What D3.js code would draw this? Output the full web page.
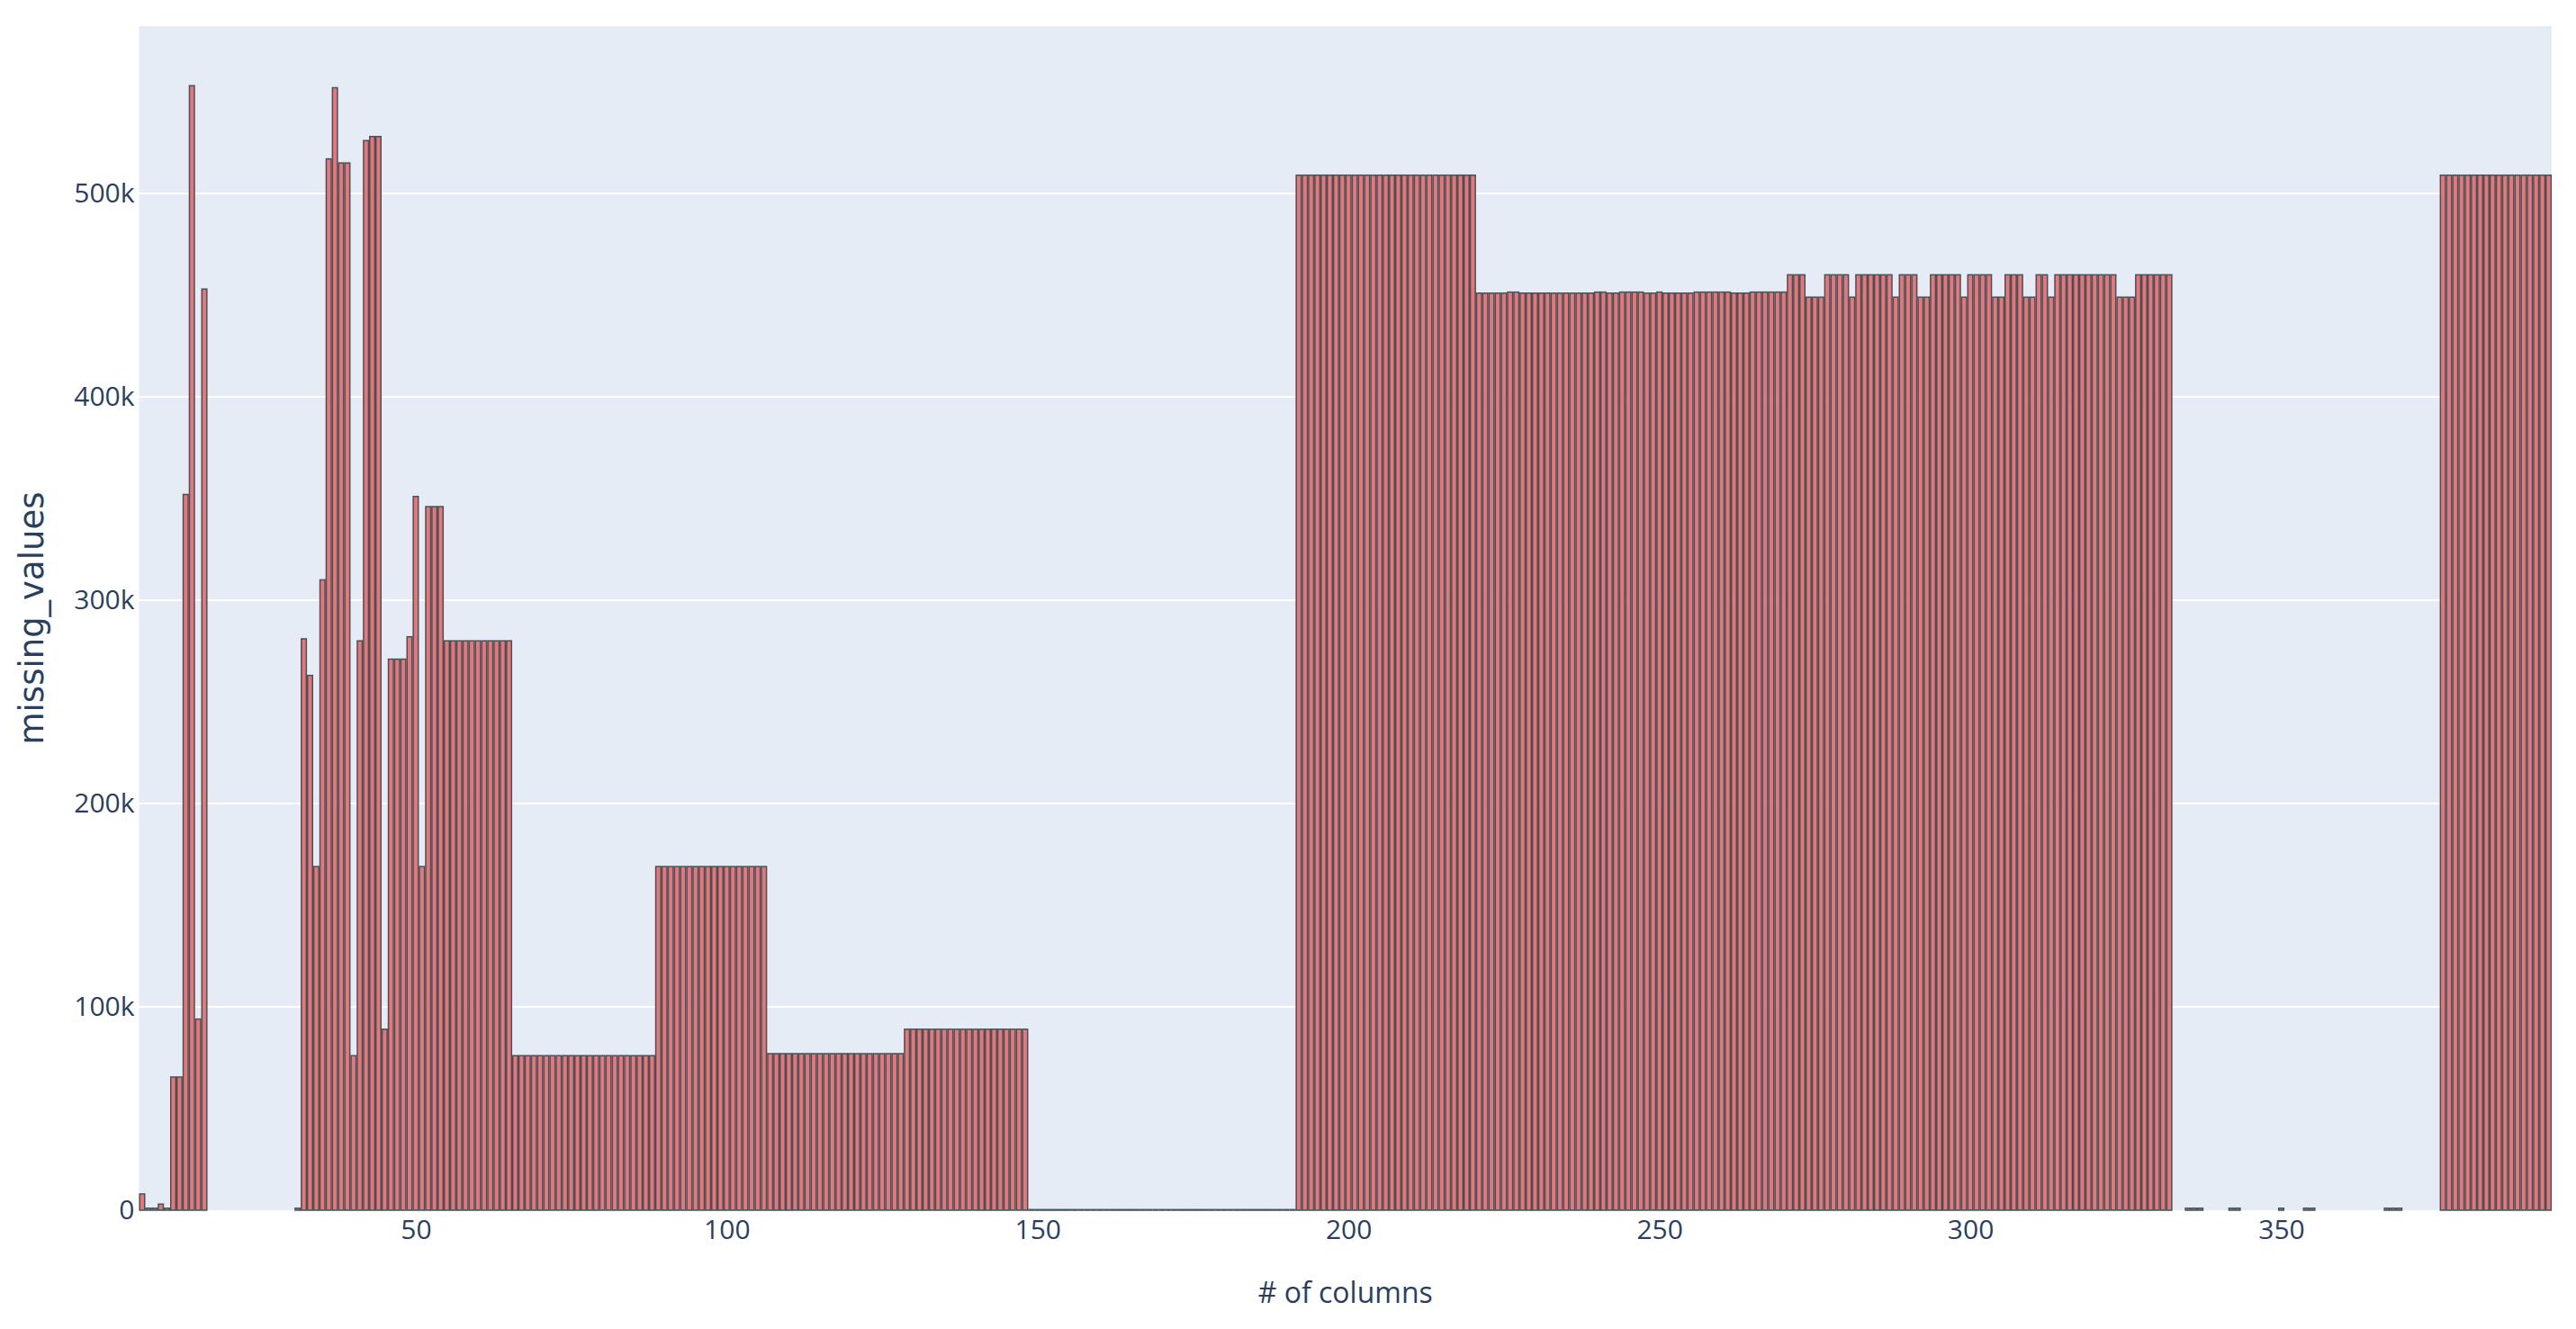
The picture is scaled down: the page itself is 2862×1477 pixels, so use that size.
<!DOCTYPE html>
<html>
<head>
  <meta charset="utf-8">
  <title>missing_values</title>
  <script src="https://d3js.org/d3.v7.min.js"></script>
  <style>
    body { margin: 0; background: #fff; }
  </style>
</head>
<body>
<div id="chart"></div>
<script type="text/javascript">
  // column numbers run from firstColumn upwards, one value per column (thousands)
  const firstColumn = 6;
  const missingK = [
    8, 1, 1, 3, 1,                                   // 6-10
    65.5, 65.5, 352, 553, 94, 453,                   // 11-16
    0, 0, 0, 0, 0, 0, 0, 0, 0, 0, 0, 0, 0, 0,        // 17-30
    1, 281, 263, 169, 310, 517, 552, 515, 515, 76,   // 31-40
    280, 526, 528, 528, 89, 271, 271, 271, 282, 351, // 41-50
    169, 346, 346, 346,                              // 51-54
    280, 280, 280, 280, 280, 280, 280, 280, 280, 280, 280, // 55-65
    76, 76, 76, 76, 76, 76, 76, 76, 76, 76, 76, 76,  // 66-77
    76, 76, 76, 76, 76, 76, 76, 76, 76, 76, 76,      // 78-88
    169, 169, 169, 169, 169, 169, 169, 169, 169,     // 89-97
    169, 169, 169, 169, 169, 169, 169, 169, 169,     // 98-106
    77, 77, 77, 77, 77, 77, 77, 77, 77, 77, 77,      // 107-117
    77, 77, 77, 77, 77, 77, 77, 77, 77, 77, 77,      // 118-128
    89, 89, 89, 89, 89, 89, 89, 89, 89, 89,          // 129-138
    89, 89, 89, 89, 89, 89, 89, 89, 89, 89,          // 139-148
    0.3, 0.3, 0.3, 0.3, 0.3, 0.3, 0.3, 0.3, 0.3, 0.3, // 149-158
    0.3, 0.3, 0.3, 0.3, 0.3, 0.3, 0.3, 0.3, 0.3, 0.3, // 159-168
    0.3, 0.3, 0.3, 0.3, 0.3, 0.3, 0.3, 0.3, 0.3, 0.3, // 169-178
    0.3, 0.3, 0.3, 0.3, 0.3, 0.3, 0.3, 0.3, 0.3, 0.3, // 179-188
    0.3, 0.3, 0.3,                                   // 189-191
    509, 509, 509, 509, 509, 509, 509, 509, 509, 509, // 192-201
    509, 509, 509, 509, 509, 509, 509, 509, 509, 509, // 202-211
    509, 509, 509, 509, 509, 509, 509, 509, 509,     // 212-220
    451, 451, 451, 451, 451, 451.5, 451.5, 451, 451, 451, // 221-230
    451, 451, 451, 451, 451, 451, 451, 451, 451, 451.5,   // 231-240
    451.5, 451, 451, 451.5, 451.5, 451.5, 451.5, 451, 451, 451.5, // 241-250
    451, 451, 451, 451, 451, 451.5, 451.5, 451.5, 451.5, 451.5,   // 251-260
    451.5, 451, 451, 451, 451.5, 451.5, 451.5, 451.5, 451.5, 451.5, // 261-270
    460, 460, 460, 449, 449, 449, 460, 460, 460, 460, // 271-280
    449, 460, 460, 460, 460, 460, 460, 449, 460, 460, // 281-290
    460, 449, 449, 460, 460, 460, 460, 460, 449, 460, // 291-300
    460, 460, 460, 449, 449, 460, 460, 460, 449, 449, // 301-310
    460, 460, 449, 460, 460, 460, 460, 460, 460, 460, // 311-320
    460, 460, 460, 449, 449, 449, 460, 460, 460, 460, // 321-330
    460, 460, 0, 0, 1, 1, 1, 0, 0, 0,                // 331-340
    0, 1, 1, 0, 0, 0, 0, 0, 0, 1,                    // 341-350
    0, 0, 0, 1, 1, 0, 0, 0, 0, 0,                    // 351-360
    0, 0, 0, 0, 0, 0, 1, 1, 1, 0,                    // 361-370
    0, 0, 0, 0, 0,                                   // 371-375
    509, 509, 509, 509, 509, 509, 509, 509, 509,     // 376-384
    509, 509, 509, 509, 509, 509, 509, 509, 509      // 385-393
  ];
  const xTicks = [50, 100, 150, 200, 250, 300, 350];
  const yTicksK = [0, 100, 200, 300, 400, 500];
  const yTickLabels = ['0', '100k', '200k', '300k', '400k', '500k'];

  const dataset = missingK.map((v, i) => ({col: firstColumn + i, value: v * 1000}));

  let margin = {top: 29, right: 27, bottom: 132, left: 154.5};
  let W = 2862, H = 1477;
  let w = W - margin.left - margin.right;
  let h = H - margin.top - margin.bottom;

  const textColor = '#2a3f5f';
  const tickFont = "'Liberation Sans Narrow', 'Open Sans', sans-serif";

  let root = d3.select('#chart')
      .append('svg')
        .attr('width', W)
        .attr('height', H);

  let svg = root.append('g')
      .attr('transform', `translate(${margin.left},${margin.top})`);

  let lastColumn = d3.max(dataset, d => d.col);
  let xScale = d3.scaleLinear()
      .domain([firstColumn - 0.5, lastColumn + 0.5])
      .range([0, w]);

  let yScale = d3.scaleLinear()
      .domain([0, d3.max(dataset, d => d.value) * 1.053])
      .range([h, 0]);

  // fundo da área útil
  svg.append('rect')
     .attr('width', w)
     .attr('height', h)
     .attr('fill', '#E5ECF6');

  // grade horizontal
  svg.selectAll('line.grid')
     .data(yTicksK.slice(1))
     .enter()
     .append('line')
     .attr('class', 'grid')
     .attr('x1', 0)
     .attr('x2', w)
     .attr('y1', d => yScale(d * 1000))
     .attr('y2', d => yScale(d * 1000))
     .attr('stroke', '#fff')
     .attr('stroke-width', 2);

  // barras (bargap 0.2)
  svg.selectAll('rect.bar')
     .data(dataset.filter(d => d.value > 0))
     .enter()
     .append('rect')
     .attr('class', 'bar')
     .attr('x', d => xScale(d.col - 0.4))
     .attr('width', d => xScale(d.col + 0.4) - xScale(d.col - 0.4))
     .attr('y', d => yScale(d.value))
     .attr('height', d => h - yScale(d.value))
     .attr('fill', '#F07276')
     .attr('stroke', '#3A575B')
     .attr('stroke-width', 1.5);

  // Eixo x
  let xAxis = d3.axisBottom(xScale)
      .tickValues(xTicks)
      .tickSize(0)
      .tickPadding(11);
  let gx = svg.append('g')
     .attr('transform', `translate(0,${h})`)
     .call(xAxis);
  gx.select('.domain').remove();
  gx.selectAll('text')
     .attr('fill', textColor)
     .attr('font-family', tickFont)
     .attr('font-size', '30px');

  svg.append('text')
     .attr('x', w / 2)
     .attr('y', h + 103)
     .style('text-anchor', 'middle')
     .attr('fill', textColor)
     .attr('font-family', tickFont)
     .attr('font-size', '32px')
     .text('# of columns');

  // Eixo y
  let yAxis = d3.axisLeft(yScale)
      .tickValues(yTicksK.map(d => d * 1000))
      .tickFormat((d, i) => yTickLabels[i])
      .tickSize(0)
      .tickPadding(5);
  let gy = svg.append('g').call(yAxis);
  gy.select('.domain').remove();
  gy.selectAll('text')
     .attr('fill', textColor)
     .attr('font-family', tickFont)
     .attr('font-size', '30px');

  svg.append('text')
     .attr('transform', `translate(${35 - margin.left},${h / 2}) rotate(-90)`)
     .attr('dy', '0.35em')
     .style('text-anchor', 'middle')
     .attr('fill', textColor)
     .attr('font-family', "'DejaVu Sans', Verdana, sans-serif")
     .attr('font-size', '37px')
     .text('missing_values');
</script>
</body>
</html>
